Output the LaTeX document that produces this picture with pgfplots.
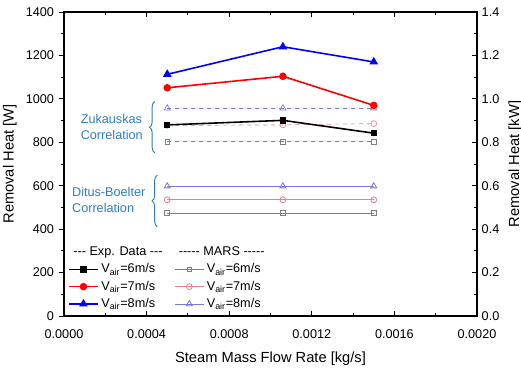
\documentclass[border=0pt]{standalone}
\usepackage{pgfplots}
\pgfplotsset{compat=1.18}
\usepackage{fontspec}
\setmainfont{Liberation Sans}
\usetikzlibrary{decorations.pathreplacing}

\definecolor{mgray}{HTML}{7F7F7F}
\definecolor{mred}{HTML}{E8808C}
\definecolor{mblue}{HTML}{7878D8}
\definecolor{annot}{HTML}{2F7DC0}

\begin{document}
\begin{tikzpicture}
\pgfplotsset{
  every axis/.append style={scale only axis, width=309.75pt, height=228pt, xmin=0, xmax=0.002,
    /pgf/number format/assume math mode=true,
    /pgf/number format/1000 sep={},
    tick label style={font=\fontsize{9.5}{11}\selectfont},
    label style={font=\fontsize{11}{13}\selectfont},
    major tick length=4pt, minor tick length=2.5pt,
    tick style={black, line width=0.6pt}, axis line style={line width=0.8pt}},
}
% left axis (W)
\begin{axis}[ymin=0, ymax=1400, axis y line*=left, axis x line=none, tick align=outside,
  ytick={0,200,400,600,800,1000,1200,1400}, minor y tick num=1,
  ylabel={Removal Heat [W]}]
\end{axis}
% right axis (kW)
\begin{axis}[ymin=0, ymax=1.4, axis y line*=right, axis x line=none, tick align=inside,
  ytick={0,0.2,0.4,0.6,0.8,1.0,1.2,1.4}, minor y tick num=1,
  yticklabel style={/pgf/number format/fixed, /pgf/number format/fixed zerofill, /pgf/number format/precision=1},
  ylabel={Removal Heat [kW]}]
\end{axis}
% main axis
\begin{axis}[ymin=0, ymax=1400, xtick={0,0.0004,0.0008,0.0012,0.0016,0.002}, minor x tick num=1,
  xtick pos=both, ytick=\empty, tick align=inside, scaled x ticks=false,
  xticklabel style={/pgf/number format/fixed, /pgf/number format/fixed zerofill, /pgf/number format/precision=4, yshift=-7pt},
  xlabel={Steam Mass Flow Rate [kg/s]},
  xlabel style={yshift=-3pt},
  legend columns=2,
  legend cell align=left,
  legend style={at={(axis cs:0.0000,4)}, anchor=south west, draw=none, fill=none,
    font=\fontsize{9.5}{11}\selectfont, row sep=0.6pt,
    /tikz/every even column/.append style={column sep=7pt}},
  legend image code/.code={\draw[mark repeat=2,mark phase=2] plot coordinates {(0cm,0cm)(0.38cm,0cm)(0.76cm,0cm)};},
]
% Zukauskas (MARS, dashed)
\addplot[forget plot, mgray, dashed, line width=0.5pt, mark=square, mark options={solid, fill=white, scale=0.9}] coordinates {(0.0005,803) (0.00106,803) (0.0015,803)};
\addplot[forget plot, mred, dashed, line width=0.5pt, mark=o, mark options={solid, fill=white, scale=1.1}] coordinates {(0.0005,878) (0.00106,880) (0.0015,886)};
\addplot[forget plot, mblue, dashed, line width=0.5pt, mark=triangle, mark options={solid, fill=white, scale=1.3}] coordinates {(0.0005,957) (0.00106,957) (0.0015,957)};
% Ditus-Boelter (MARS, solid)
\addplot[forget plot, mgray, line width=0.6pt, mark=square, mark options={fill=white, scale=0.9}] coordinates {(0.0005,474) (0.00106,474) (0.0015,474)};
\addplot[forget plot, mred, line width=0.6pt, mark=o, mark options={fill=white, scale=1.1}] coordinates {(0.0005,535) (0.00106,535) (0.0015,535)};
\addplot[forget plot, mblue, line width=0.6pt, mark=triangle, mark options={fill=white, scale=1.3}] coordinates {(0.0005,598) (0.00106,598) (0.0015,598)};
% Experimental
\addplot[forget plot, black, line width=1.2pt, mark=square*, mark options={scale=0.9}] coordinates {(0.0005,880) (0.00106,901) (0.0015,842)};
\addplot[forget plot, red, line width=1.2pt, mark=*, mark options={scale=1.1}] coordinates {(0.0005,1051) (0.00106,1104) (0.0015,970)};
\addplot[forget plot, blue, line width=1.2pt, mark=triangle*, mark options={scale=1.3}] coordinates {(0.0005,1113) (0.00106,1240) (0.0015,1170)};

% legend
\addlegendimage{empty legend}\addlegendentry{\hspace*{-21pt}{-}{-}{-} Exp. Data {-}{-}{-}}
\addlegendimage{empty legend}\addlegendentry{\hspace*{-21pt}{-}{-}{-}{-}{-} MARS {-}{-}{-}{-}{-}}
\addlegendimage{black, line width=1.2pt, mark=square*, mark options={scale=0.9}}\addlegendentry{V$_{\mathrm{air}}$=6m/s}
\addlegendimage{mgray, line width=0.6pt, mark=square, mark options={fill=white, scale=0.9}}\addlegendentry{V$_{\mathrm{air}}$=6m/s}
\addlegendimage{red, line width=1.2pt, mark=*, mark options={scale=1.1}}\addlegendentry{V$_{\mathrm{air}}$=7m/s}
\addlegendimage{mred, line width=0.6pt, mark=o, mark options={fill=white, scale=1.1}}\addlegendentry{V$_{\mathrm{air}}$=7m/s}
\addlegendimage{blue, line width=1.2pt, mark=triangle*, mark options={scale=1.3}}\addlegendentry{V$_{\mathrm{air}}$=8m/s}
\addlegendimage{mblue, line width=0.6pt, mark=triangle, mark options={fill=white, scale=1.3}}\addlegendentry{V$_{\mathrm{air}}$=8m/s}

% annotations
\draw[annot, line width=0.7pt, decorate, decoration={brace, amplitude=4pt}] (axis cs:0.00044,751) -- (axis cs:0.00044,988);
\draw[annot, line width=0.7pt, decorate, decoration={brace, amplitude=4pt}] (axis cs:0.000452,411) -- (axis cs:0.000452,649);
\node[text=annot, align=left, anchor=west, inner sep=0pt, font=\fontsize{9.5}{12}\selectfont] at (axis cs:0.00008,869) {Zukauskas\\Correlation};
\node[text=annot, align=left, anchor=west, inner sep=0pt, font=\fontsize{9.5}{12}\selectfont] at (axis cs:0.000038,534) {Ditus-Boelter\\Correlation};
\end{axis}
\pgfresetboundingbox
\path[use as bounding box] ([xshift=-48pt,yshift=-39.75pt]current axis.south west) rectangle ([xshift=33pt,yshift=9pt]current axis.north east);
\end{tikzpicture}
\end{document}
